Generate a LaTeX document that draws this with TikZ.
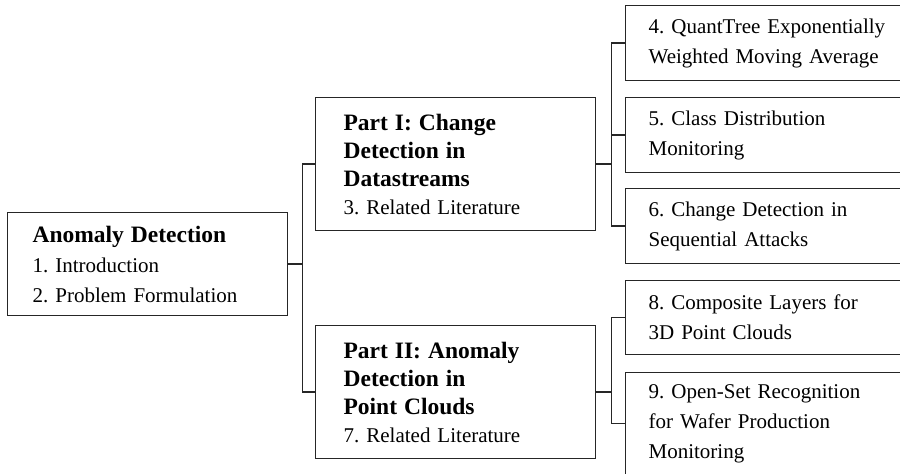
\documentclass[tikz,border=0pt]{standalone}
\usepackage{fontspec}
\setmainfont{Liberation Serif}
\usetikzlibrary{positioning,calc}
\newcommand{\head}[1]{{\fontsize{11.75}{14}\selectfont\bfseries #1}}
\frenchspacing

\begin{document}
\begin{tikzpicture}[x=.5pt,y=-.5pt,
  box/.style={draw=black!85,line width=.6pt,anchor=north west,align=left,inner ysep=0pt,font=\fontsize{10.5}{15}\selectfont},
  mainbox/.style={box,minimum width=140pt,inner xsep=12.5pt,text width=115pt},
  partbox/.style={box,minimum width=140pt,minimum height=66.5pt,inner xsep=14pt,text width=112pt,font=\fontsize{10.5}{14}\selectfont},
  chapbox/.style={box,minimum width=160pt,inner xsep=11.5pt,text width=137pt},
  link/.style={draw=black!85,line width=.6pt}]
  \clip (0,0) rectangle (900,474);

  \node[mainbox,minimum height=51.5pt] (intro) at (7,212)
    {\head{Anomaly Detection}\\ 1. Introduction\\ 2. Problem Formulation};

  \node[partbox] (part1) at (315,97)
    {\head{Part I: Change}\\ \head{Detection in}\\ \head{Datastreams}\\ 3. Related Literature};
  \node[partbox] (part2) at (315,325)
    {\head{Part II: Anomaly}\\ \head{Detection in}\\ \head{Point Clouds}\\ 7. Related Literature};

  \node[chapbox,minimum height=37.5pt] (qt) at (625,5)
    {4. QuantTree Exponentially\\ Weighted Moving Average};
  \node[chapbox,minimum height=37.5pt] (cdm) at (625,97)
    {5. Class Distribution\\ Monitoring};
  \node[chapbox,minimum height=37.5pt] (seq) at (625,188)
    {6. Change Detection in\\ Sequential Attacks};
  \node[chapbox,minimum height=37pt] (cl) at (625,280)
    {8. Composite Layers for\\ 3D Point Clouds};
  \node[chapbox,minimum height=51pt] (osr) at (625,372)
    {9. Open-Set Recognition\\ for Wafer Production\\ Monitoring};

  \coordinate (bus0) at ($(intro.east)+(14,0)$);
  \coordinate (bus1) at ($(part1.east)+(15,0)$);
  \coordinate (bus2) at ($(part2.east)+(15,0)$);

  \draw[link] (intro.east) -- (bus0);
  \draw[link] (part1.west) -| (bus0) |- (part2.west);
  \draw[link] (part1.east) -- (bus1);
  \draw[link] (qt.west) -| (bus1) |- (seq.west);
  \draw[link] (bus1 |- cdm.west) -- (cdm.west);
  \draw[link] (part2.east) -- (bus2);
  \draw[link] (cl.west) -| (bus2) |- (osr.west);
\end{tikzpicture}
\end{document}
